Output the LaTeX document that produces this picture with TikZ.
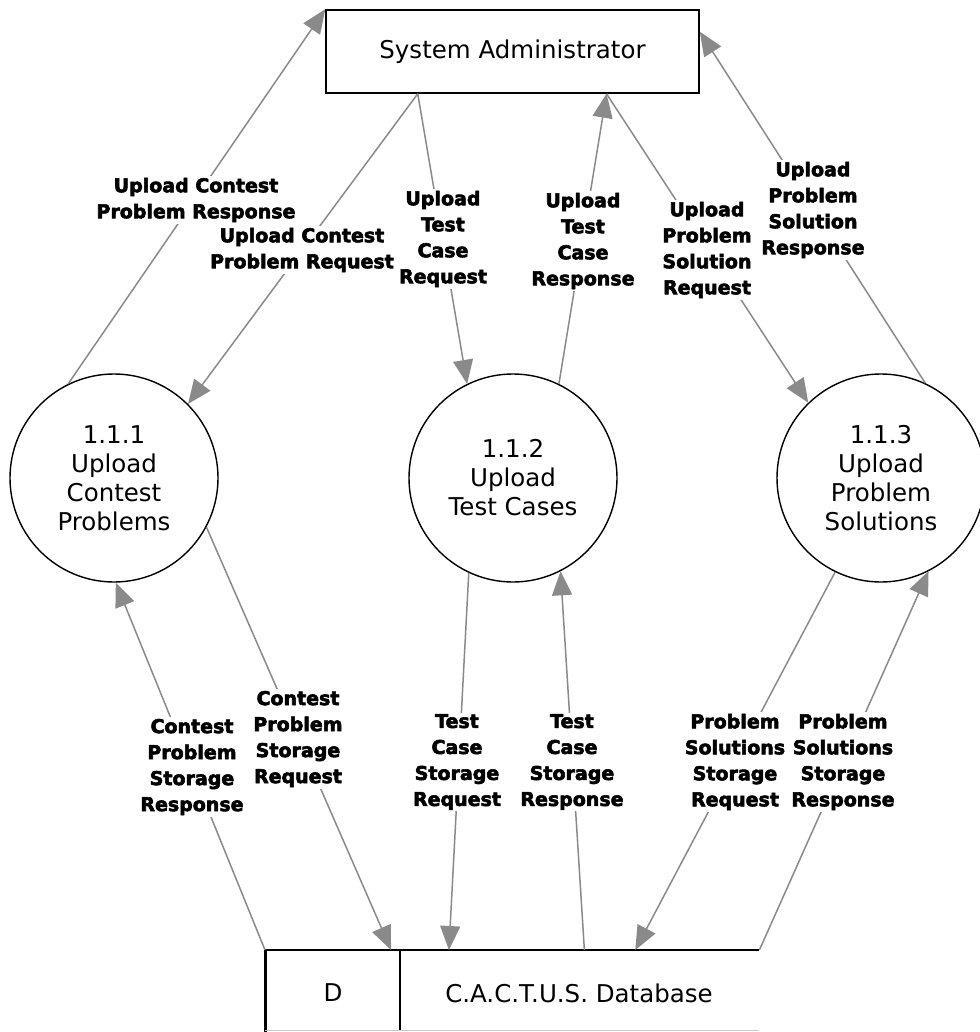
\documentclass[tikz,border=0pt]{standalone}
\usepackage{fontspec}
\setmainfont{DejaVu Sans}
\newfontfamily\lblfont{DejaVu Sans Bold}[FakeBold=3]
\usetikzlibrary{arrows.meta,calc}
\definecolor{flowgray}{RGB}{138,138,138}

\begin{document}
\begin{tikzpicture}[x=1pt,y=-1pt,
  entity/.style={draw, line width=1.5pt, minimum width=373pt, minimum height=83pt,
    inner sep=0pt, font=\fontsize{24.5}{29}\selectfont},
  proc/.style={circle, draw, line width=1.4pt, minimum size=208pt, inner sep=0pt,
    align=center, font=\fontsize{24.5}{29}\selectfont},
  flow/.style={draw=flowgray, line width=1.5pt, -{Triangle[length=24pt,width=20pt]}},
  lbl/.style={fill=white, inner sep=1.5pt, align=center,
    font=\lblfont\fontsize{19}{26}\selectfont},
  store/.style={font=\fontsize{24.5}{29}\selectfont, inner sep=0pt}
]
\useasboundingbox (0,0) rectangle (979,1032);

% external entity and processes
\node[entity] (adm) at (512.5,51.5) {System Administrator};
\node[proc] (p1) at (114,478) {1.1.1\\Upload\\Contest\\Problems};
\node[proc] (p2) at (513,478) {1.1.2\\Upload\\Test Cases};
\node[proc] (p3) at (881,478) {1.1.3\\Upload\\Problem\\Solutions};

% data store (open on the right)
\node[minimum width=494pt, minimum height=80pt, inner sep=0pt, anchor=north west] (db) at (265,950) {};
\draw[line width=1.5pt] (db.north west) -- (db.north east);
\draw[line width=3pt] (db.north west) -- ($(db.south west)+(0,2)$);
\draw[line width=1.5pt] ($(db.north west)!0.273!(db.north east)$) -- ($(db.south west)!0.273!(db.south east)$);
\draw[line width=1pt, black!20] (db.south west) -- (db.south east);
\node[store] (dbid) at (333,993) {D};
\node[store] (dbname) at (579,993) {C.A.C.T.U.S. Database};

% connection points on the entity and the store
\coordinate (aL) at ($(adm.south west)!0.247!(adm.south east)$);
\coordinate (aR) at ($(adm.south west)!0.751!(adm.south east)$);
\coordinate (aE) at ($(adm.north east)!0.265!(adm.south east)$);
\coordinate (d1) at ($(db.north west)!0.255!(db.north east)$);
\coordinate (d2) at ($(db.north west)!0.372!(db.north east)$);
\coordinate (d3) at ($(db.north west)!0.646!(db.north east)$);
\coordinate (d4) at ($(db.north west)!0.749!(db.north east)$);

% data flows
\draw[flow] (p1.116) -- (adm.north west);
\draw[flow] (aL) -- (p1.45);
\draw[flow] (aL) -- (p2.116);
\draw[flow] (p2.64) -- (aR);
\draw[flow] (aR) -- (p3.134);
\draw[flow] (p3.65) -- (aE);
\draw[flow] (db.north west) -- (p1.-89);
\draw[flow] (p1.-28) -- (d1);
\draw[flow] (p2.-115) -- (d2);
\draw[flow] (d3) -- (p2.-63);
\draw[flow] (p3.-116) -- (d4);
\draw[flow] (db.north east) -- (p3.-63);

% flow labels
\node[lbl] (l1) at (196,200) {Upload Contest\\Problem Response};
\node[lbl] (l2) at (302,250) {Upload Contest\\Problem Request};
\node[lbl] (l3) at (443,239) {Upload\\Test\\Case\\Request};
\node[lbl] (l4) at (583,241) {Upload\\Test\\Case\\Response};
\node[lbl] (l5) at (707,250) {Upload\\Problem\\Solution\\Request};
\node[lbl] (l6) at (813,210) {Upload\\Problem\\Solution\\Response};
\node[lbl] (l7) at (192,767) {Contest\\Problem\\Storage\\Response};
\node[lbl] (l8) at (298,739) {Contest\\Problem\\Storage\\Request};
\node[lbl] (l9) at (457,762) {Test\\Case\\Storage\\Request};
\node[lbl] (l10) at (572,762) {Test\\Case\\Storage\\Response};
\node[lbl] (l11) at (735,762) {Problem\\Solutions\\Storage\\Request};
\node[lbl] (l12) at (843,762) {Problem\\Solutions\\Storage\\Response};
\end{tikzpicture}
\end{document}
